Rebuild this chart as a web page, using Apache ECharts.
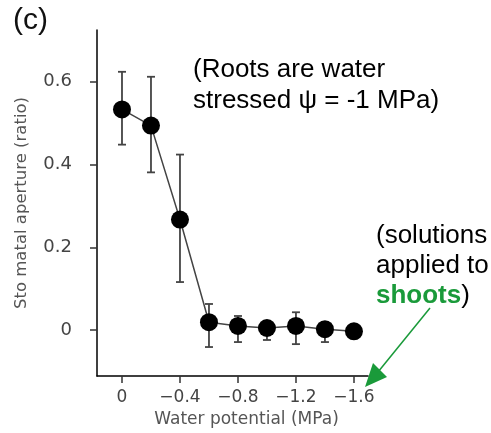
<!DOCTYPE html>
<html>
<head>
<meta charset="utf-8">
<script src="https://cdn.jsdelivr.net/npm/echarts@6/dist/echarts.min.js"></script>
<style>
  html, body { margin: 0; padding: 0; background: #fff; }
  #chart { width: 491px; height: 433px; }
</style>
</head>
<body>
<div id="chart"></div>
<script>
// Stomatal aperture vs. water potential of solutions applied to shoots
const waterPotential = [0, -0.2, -0.4, -0.6, -0.8, -1.0, -1.2, -1.4, -1.6];
const aperture       = [0.533, 0.494, 0.267, 0.019, 0.010, 0.005, 0.010, 0.002, -0.003];
const errUpper       = [0.624, 0.612, 0.424, 0.063, 0.034, 0.022, 0.043, 0.019, -0.003];
const errLower       = [0.448, 0.381, 0.116, -0.041, -0.029, -0.024, -0.034, -0.029, -0.003];
const xTicks = [0, -0.4, -0.8, -1.2, -1.6];
const yTicks = [0, 0.2, 0.4, 0.6];

const chart = echarts.init(document.getElementById('chart'), null, { renderer: 'canvas' });

const lineData = waterPotential.map((x, i) => [x, aperture[i]]);
const errData = waterPotential.map((x, i) => [x, errLower[i], errUpper[i]]);

const labelFont = 'DejaVu Sans';

chart.setOption({
  animation: false,
  title: {
    text: '(c)', left: 8, top: 1,
    textStyle: { fontFamily: 'Liberation Sans', fontSize: 30, fontWeight: 'normal', color: '#111' }
  },
  grid: { left: 97, right: 123, top: 30, bottom: 56 },
  xAxis: {
    type: 'value', inverse: true, min: -1.697, max: 0.1724,
    splitLine: { show: false },
    axisLine: { show: true, onZero: false, lineStyle: { color: '#000', width: 1.5 } },
    axisTick: { show: true, customValues: xTicks, length: 7, lineStyle: { color: '#333', width: 1.5 } },
    axisLabel: {
      customValues: xTicks, margin: 13, color: '#444', fontFamily: labelFont, fontSize: 17,
      formatter: v => v === 0 ? '0' : '\u2212' + Math.abs(v).toFixed(1)
    },
    name: 'Water potential (MPa)', nameLocation: 'middle', nameGap: 35,
    nameTextStyle: { color: '#555', fontFamily: labelFont, fontSize: 17, padding: [0, 0, 0, 28] }
  },
  yAxis: {
    type: 'value', min: -0.111, max: 0.725,
    splitLine: { show: false },
    axisLine: { show: true, onZero: false, lineStyle: { color: '#000', width: 1.5 } },
    axisTick: { show: true, customValues: yTicks, length: 7, lineStyle: { color: '#333', width: 1.5 } },
    axisLabel: {
      customValues: yTicks, margin: 25, color: '#444', fontFamily: labelFont, fontSize: 18,
      formatter: v => v === 0 ? '0' : v.toFixed(1)
    },
    name: 'Sto matal aperture (ratio)', nameLocation: 'middle', nameGap: 67,
    nameTextStyle: { color: '#555', fontFamily: labelFont, fontSize: 16.5 }
  },
  series: [
    {
      type: 'custom', z: 1,
      data: errData,
      renderItem: (params, api) => {
        const x = api.value(0);
        const lo = api.coord([x, api.value(1)]);
        const hi = api.coord([x, api.value(2)]);
        const cap = 4;
        const style = { stroke: '#444', lineWidth: 1.8 };
        return {
          type: 'group',
          children: [
            { type: 'line', shape: { x1: hi[0], y1: hi[1], x2: lo[0], y2: lo[1] }, style },
            { type: 'line', shape: { x1: hi[0] - cap, y1: hi[1], x2: hi[0] + cap, y2: hi[1] }, style },
            { type: 'line', shape: { x1: lo[0] - cap, y1: lo[1], x2: lo[0] + cap, y2: lo[1] }, style }
          ]
        };
      }
    },
    {
      type: 'line', z: 2,
      data: lineData,
      symbol: 'circle', symbolSize: 18,
      itemStyle: { color: '#000' },
      lineStyle: { color: '#444', width: 1.5 }
    }
  ],
  graphic: [
    {
      type: 'text', left: 193, top: 54,
      style: {
        text: '(Roots are water\nstressed \u03c8 = -1 MPa)',
        fontFamily: 'Liberation Sans', fontSize: 26, lineHeight: 31, fill: '#000'
      }
    },
    {
      type: 'text', left: 376, top: 221,
      style: {
        text: '(solutions\napplied to\n{g|shoots})',
        fontFamily: 'Liberation Sans', fontSize: 26, lineHeight: 30, fill: '#000',
        rich: { g: { fontFamily: 'Liberation Sans', fontSize: 26, fontWeight: 'bold', fill: '#1a9a3a', lineHeight: 30 } }
      }
    },
    {
      type: 'line',
      shape: { x1: 430, y1: 308, x2: 378, y2: 372 },
      style: { stroke: '#1a9a3a', lineWidth: 1.5 }
    },
    {
      type: 'polygon',
      shape: { points: [[365, 387], [387, 377], [373, 363]] },
      style: { fill: '#1a9a3a' }
    }
  ]
});
</script>
</body>
</html>
